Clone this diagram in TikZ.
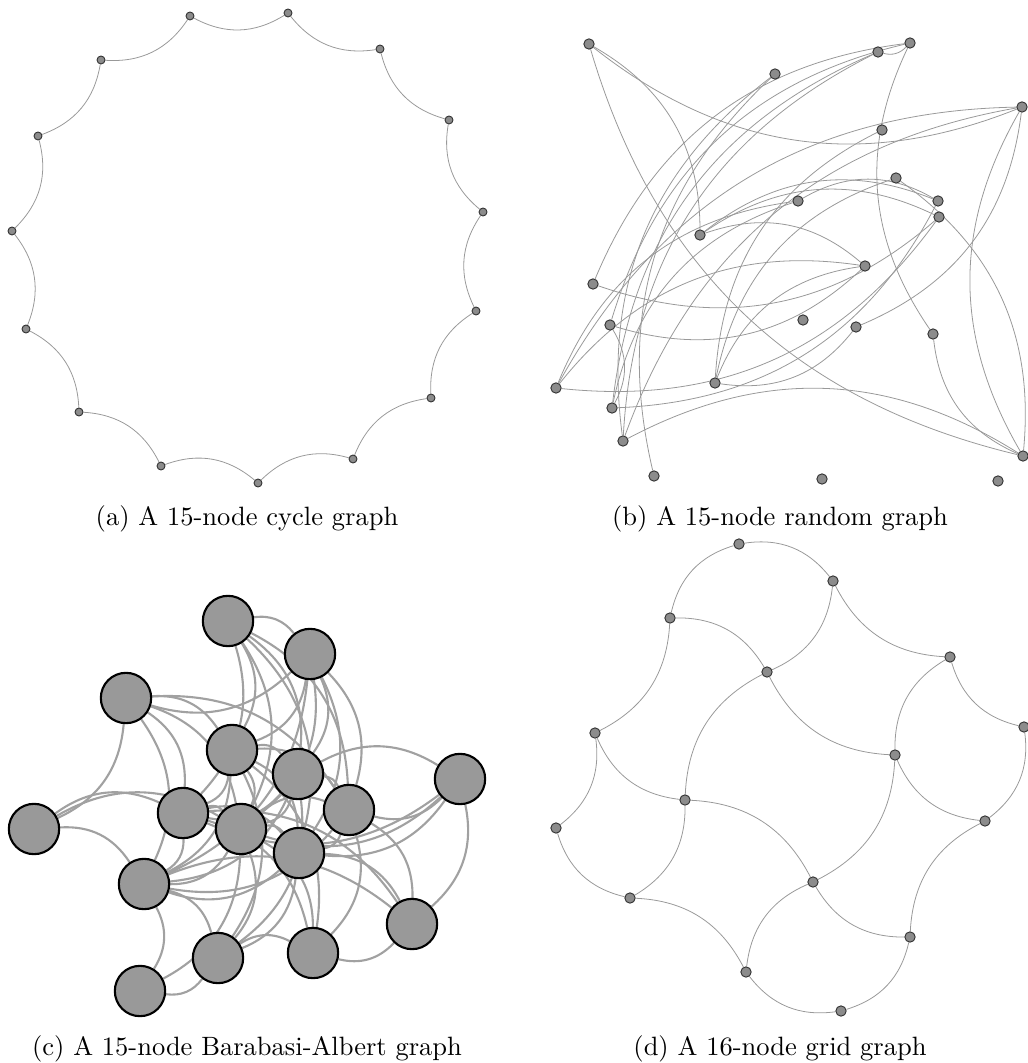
\documentclass[tikz,border=0pt]{standalone}
\pgfdeclarelayer{bg}
\pgfsetlayers{bg,main}
\tikzset{
  dot/.style={circle,draw=black!80,fill=black!45,line width=0.35pt,inner sep=0pt,minimum size=3pt},
  bigdot/.style={dot,minimum size=3.9pt},
  hub/.style={circle,draw=black,fill=black!40,line width=0.8pt,inner sep=0pt,minimum size=19pt},
  link/.style={draw=black!40,line width=0.3pt},
  thicklink/.style={draw=black!37,line width=0.8pt},
}
\begin{document}
\begin{tikzpicture}[x=0.3774pt,y=-0.3774pt,line join=round]
  \useasboundingbox (0,0) rectangle (1027,1063);
  % (a) cycle
  \foreach \x/\y [count=\i] in {190/16,288/13,380/49,449/120,483/212,476/311,431/398,
      353/459,258/483,161/466,79/412,26/329,12/231,38/136,101/60}
    \node[dot] (c\i) at (\x,\y) {};
  \begin{pgfonlayer}{bg}
    \foreach \i in {1,...,15} {
        \pgfmathtruncatemacro{\j}{mod(\i,15)+1}
        \draw[link] (c\i) to[bend right=30] (c\j);
      }
  \end{pgfonlayer}
  \node[anchor=base] (capa) at (247,525) {(a) A 15-node cycle graph};

  % (b) random
  \foreach \n/\x/\y in {A/589/44,B/775/74,C/878/52,D/910/43,E/1022/107,F/882/130,
      G/896/178,H/798/201,I/938/201,J/939/217,K/700/235,L/865/266,M/593/284,
      N/610/325,O/803/320,P/856/327,Q/933/334,R/556/388,S/715/383,T/612/408,
      U/623/441,V/1023/456,W/654/476,X/822/479,Y/998/481}
    \node[bigdot] (r\n) at (\x,\y) {};
  \begin{pgfonlayer}{bg}
    \foreach \u/\v/\a in {A/E/-30,A/V/-30,A/K/30,W/B/30,U/B/30,D/C/30,T/C/30,U/C/30,
        M/D/30,N/D/30,D/Q/-30,Q/V/-30,G/V/30,P/E/-30,S/P/-30,E/V/-30,U/E/30,R/E/30,
        S/F/30,S/G/30,H/I/30,R/H/30,K/J/30,K/L/30,K/I/30,M/J/-30,N/L/-30,N/T/30,
        T/I/-30,U/V/30,R/J/-30,R/L/30,S/L/30,T/H/30}
      \draw[link] (r\u) to[bend left=\a] (r\v);
  \end{pgfonlayer}
  \node[anchor=base] (capb) at (780,525) {(b) A 15-node random graph};

  % (c) Barabasi-Albert
  \foreach \x/\y [count=\i] in {228/621,310/654,126/698,232/750,298/774,460/779,
      34/829,183/813,241/829,349/810,299/853,144/884,412/924,218/958,313/953,140/991}
    \node[hub] (b\i) at (\x,\y) {};
  \begin{pgfonlayer}{bg}
    \foreach \u/\v in {1/2,1/4,1/5,1/8,1/9,1/10,1/11,2/3,2/4,2/5,2/9,2/10,2/11,2/12,
        3/4,3/7,3/8,3/9,3/10,3/12,4/5,4/8,4/9,4/10,4/11,4/12,4/14,4/15,
        5/6,5/8,5/9,5/10,5/12,5/14,6/8,6/9,6/10,6/11,6/13,7/8,7/9,7/12,
        8/9,8/11,8/12,8/13,8/15,9/10,9/11,9/12,9/14,9/15,9/16,
        10/11,10/12,10/13,10/15,11/12,11/13,11/14,12/13,12/14,12/16,13/15,14/15,14/16}
      \draw[thicklink] (b\u) to[bend left=30] (b\v);
  \end{pgfonlayer}
  \node[anchor=base] (capc) at (247,1055) {(c) A 15-node Barabasi-Albert graph};

  % (d) grid
  \foreach \n/\x/\y in {00/739/544,10/833/581,20/950/657,30/1024/727,
      01/670/618,11/767/672,21/895/755,31/985/821,
      02/595/733,12/685/800,22/813/882,32/910/937,
      03/556/828,13/630/898,23/746/972,33/841/1011}
    \node[bigdot] (g\n) at (\x,\y) {};
  \begin{pgfonlayer}{bg}
    \foreach \u/\v in {00/10,01/00,10/11,01/11,20/10,01/02,21/11,12/11,21/20,30/20,
        02/03,12/02,13/03,12/13,12/22,13/23,21/22,23/22,32/22,31/21,30/31,32/31,
        32/33,33/23}
      \draw[link] (g\u) to[bend left=30] (g\v);
  \end{pgfonlayer}
  \node[anchor=base] (capd) at (780,1055) {(d) A 16-node grid graph};
\end{tikzpicture}
\end{document}
